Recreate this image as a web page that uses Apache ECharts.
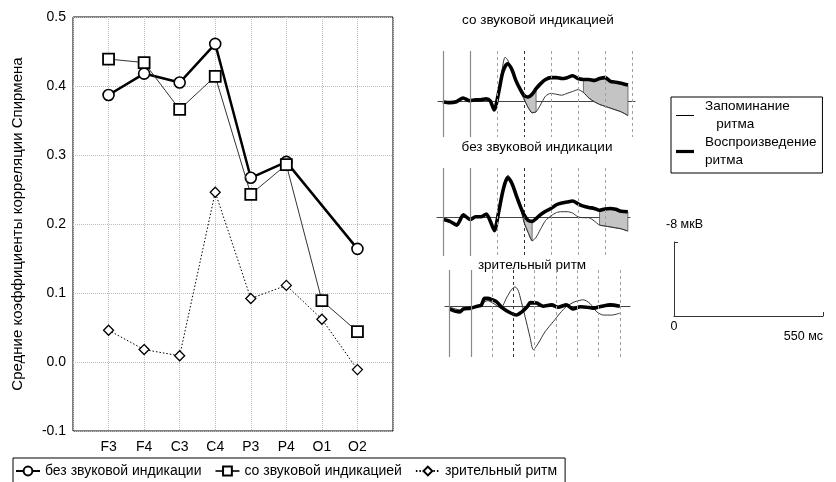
<!DOCTYPE html>
<html><head><meta charset="utf-8">
<script src="https://cdn.jsdelivr.net/npm/echarts@6/dist/echarts.min.js"></script>
<style>html,body{margin:0;padding:0;background:#fff}#c{width:836px;height:482px}</style>
</head><body><div id="c"></div>
<script>
// ---- main chart data ----
const categories = ['F3','F4','C3','C4','P3','P4','O1','O2'];
const noSound   = [0.387, 0.418, 0.405, 0.461, 0.267, 0.290, null, 0.164];
const withSound = [0.439, 0.434, 0.366, 0.414, 0.243, 0.286, 0.089, 0.044];
const visual    = [0.046, 0.018, 0.009, 0.246, 0.092, 0.111, 0.062, -0.011];
const yTicks = [-0.1, 0.0, 0.1, 0.2, 0.3, 0.4, 0.5];
const seriesNames = ['без звуковой индикации','со звуковой индикацией','зрительный ритм'];

// ---- ERP panels (time, ms; amplitude, µV, negative up) ----
const panelTitles = ['со звуковой индикацией','без звуковой индикации','зрительный ритм'];
const waveNames = ['Запоминание ритма','Воспроизведение ритма'];
const tGrid = [-100,-75,-50,-25,0,20,40,60,75,90,105,120,130,140,155,170,185,200,215,230,245,260,280,300,320,340,360,380,400,420,440,460,480,500,520,540,560,585];
const p1Thick = [0.0,0.1,0.0,-0.4,-0.1,-0.2,-0.2,-0.3,-0.1,0.9,-0.8,-3.0,-3.8,-4.1,-3.5,-2.3,-1.4,-0.7,-0.5,-0.8,-1.4,-1.9,-2.4,-2.6,-2.6,-2.5,-2.6,-2.8,-2.5,-2.4,-2.4,-2.3,-2.5,-2.6,-2.2,-2.1,-2.0,-1.8];
const p1Thin  = [0.0,0.1,0.0,-0.4,-0.1,-0.2,-0.2,-0.3,-0.1,0.9,-0.9,-3.6,-4.8,-4.5,-3.3,-2.2,-1.2,-0.3,0.6,1.2,1.1,0.4,-0.6,-0.9,-0.8,-0.7,-0.9,-1.1,-1.3,-1.0,-0.4,0.0,0.3,0.5,0.7,0.9,1.1,1.5];
const p2Thick = [0.2,0.4,0.8,-0.3,0.2,-0.1,-0.1,-0.4,0.4,1.4,-0.5,-2.7,-3.8,-4.3,-3.7,-2.5,-1.3,-0.3,0.3,0.4,0.1,-0.3,-0.7,-1.0,-1.4,-1.6,-1.7,-1.8,-1.5,-1.25,-1.1,-1.0,-0.8,-0.95,-1.0,-0.9,-0.7,-0.65];
const p2Thin  = [0.2,0.4,0.8,-0.3,0.2,-0.1,-0.1,-0.4,0.4,1.4,-0.5,-2.9,-4.1,-4.6,-3.8,-2.5,-1.2,0.5,1.6,2.5,2.1,1.3,0.3,-0.2,-0.55,-0.65,-0.65,-0.5,-0.1,0.0,0.0,0.35,0.8,0.9,1.0,1.1,1.2,1.45];
const p1Shade = [[200,245],[420,585]];
const p2Shade = [[200,230],[480,585]];
const p3Thick = [[-100,0.3],[-70,0.55],[-50,0.6],[-35,0.3],[0,0.2],[30,0.0],[50,-0.15],[65,-0.85],[80,-0.85],[100,-0.7],[120,-0.5],[150,0.2],[185,0.7],[215,0.95],[240,0.6],[265,0.05],[280,-0.4],[310,-0.35],[340,0.0],[380,-0.15],[410,0.1],[450,-0.15],[480,0.3],[515,0.05],[545,0.1],[575,0.2],[615,0.0],[655,-0.15],[700,0.0]];
const p3Thin  = [[-100,0.1],[-70,0.3],[-50,0.4],[-35,0.2],[0,0.2],[30,0.05],[50,-0.1],[65,-0.5],[80,-0.6],[100,-0.4],[120,-0.1],[140,0.2],[170,-1.0],[190,-1.75],[208,-2.1],[222,-1.75],[232,-1.0],[255,1.1],[278,3.3],[294,4.7],[317,4.0],[349,2.75],[388,1.65],[419,0.75],[451,0.0],[490,-0.5],[529,-0.7],[560,-0.3],[592,0.6],[623,0.95],[662,0.95],[700,0.75]];
const p1Marks = [-100,0,100,200,300,400,500,600];
const p2Marks = [-100,0,100,200,300,400,500];
const p3Marks = [-100,0,100,200,300,400,500,600,700];
const scaleBar = {amp: -8, time: 550};

const FONT = 'Liberation Sans, Arial, sans-serif';
const chart = echarts.init(document.getElementById('c'));

function markLines(vals){
  return {
    silent: true, symbol: 'none', label: {show: false},
    data: vals.map(v => ({xAxis: v, lineStyle: (v <= 0)
      ? {type: 'solid', color: '#8a8a8a', width: 1.2}
      : {type: [3,3], color: v === 200 ? '#333' : '#a0a0a0', width: 1}}))
  };
}
function shade(idx, times, thick, thin, regions){
  return {
    type: 'custom', xAxisIndex: idx, yAxisIndex: idx, silent: true, z: 1,
    data: regions,
    renderItem: function(params, api){
      const t0 = api.value(0), t1 = api.value(1);
      const ids = [];
      times.forEach((t,i)=>{ if (t >= t0 && t <= t1) ids.push(i); });
      const top = ids.map(i => api.coord([times[i], thick[i]]));
      const bot = ids.slice().reverse().map(i => api.coord([times[i], thin[i]]));
      return {type: 'polygon', shape: {points: top.concat(bot)},
        style: {fill: '#c4c4c4', stroke: '#555', lineWidth: 0.8}};
    }
  };
}
function zip(t, v){ return t.map((x,i)=>[x, v[i]]); }
function waveLine(idx, name, data, thick, marks){
  const s = {
    type: 'line', name: name, xAxisIndex: idx, yAxisIndex: idx, data: data,
    symbol: 'none', smooth: 0.25, silent: true, z: thick ? 4 : 3,
    lineStyle: {color: thick ? '#000' : '#333', width: thick ? 3.6 : 1},
    itemStyle: {color: '#000'}
  };
  if (marks) s.markLine = markLines(marks);
  return s;
}
function waveX(idx, min, max){
  return {type: 'value', gridIndex: idx, min: min, max: max,
    axisLine: {show: true, onZero: true, lineStyle: {color: '#444', width: 1}},
    axisTick: {show: false}, axisLabel: {show: false}, splitLine: {show: false}};
}
function waveY(idx, min, max){
  return {type: 'value', gridIndex: idx, min: min, max: max, inverse: true, show: false, splitLine: {show: false}};
}

const option = {
  animation: false,
  textStyle: {fontFamily: FONT, color: '#000'},
  grid: [
    {left: 73, top: 17, width: 320, height: 414, show: true, borderColor: '#000', borderWidth: 1},
    {left: 438, top: 51, width: 197, height: 86},
    {left: 437, top: 168, width: 193, height: 88},
    {left: 445, top: 270, width: 185, height: 87},
    {left: 674, top: 242, width: 149, height: 74}
  ],
  xAxis: [
    {type: 'category', gridIndex: 0, data: [''].concat(categories, ['']), boundaryGap: false,
     axisLine: {show: false}, axisTick: {show: false},
     axisLabel: {interval: 0, fontSize: 14, margin: 9, color: '#000', fontFamily: FONT},
     splitLine: {show: true, interval: 0, lineStyle: {type: [1,1], color: '#bdbdbd'}}},
    waveX(1, -118, 611),
    waveX(2, -123, 593),
    waveX(3, -121, 748),
    {type: 'value', gridIndex: 4, min: 0, max: scaleBar.time,
     axisLine: {show: true, onZero: false, lineStyle: {color: '#333'}},
     axisTick: {show: true, inside: true, length: 4, customValues: [scaleBar.time], lineStyle: {color: '#333'}},
     axisLabel: {customValues: [0, scaleBar.time], fontSize: 12, color: '#000', margin: 4,
       formatter: v => v === 0 ? '{a|0}' : '{b|' + scaleBar.time + ' мс}',
       rich: {a: {fontSize: 12.5, fontFamily: FONT}, b: {fontSize: 12.5, fontFamily: FONT, padding: [10,0,0,0]}},
       alignMinLabel: 'center', alignMaxLabel: 'right'},
     splitLine: {show: false}}
  ],
  yAxis: [
    {type: 'value', gridIndex: 0, min: yTicks[0], max: yTicks[yTicks.length-1], interval: 0.1,
     axisLine: {show: false}, axisTick: {show: false},
     axisLabel: {fontSize: 14, margin: 7, color: '#000', fontFamily: FONT,
       formatter: v => Math.abs(v) < 1e-9 ? '0.0' : v.toFixed(1)},
     splitLine: {show: true, lineStyle: {type: [1,1], color: '#bdbdbd'}},
     name: 'Средние коэффициенты корреляции Спирмена', nameLocation: 'middle', nameGap: 48,
     nameTextStyle: {fontSize: 15, color: '#000', fontFamily: FONT}},
    waveY(1, -5.48, 3.82),
    waveY(2, -5.37, 4.14),
    waveY(3, -3.92, 5.48),
    {type: 'value', gridIndex: 4, min: scaleBar.amp, max: 0, inverse: true,
     axisLine: {show: true, onZero: false, lineStyle: {color: '#333'}},
     axisTick: {show: true, inside: true, length: 4, customValues: [scaleBar.amp], lineStyle: {color: '#333'}},
     axisLabel: {show: false}, splitLine: {show: false},
     name: scaleBar.amp + ' мкВ', nameLocation: 'start', nameGap: 17,
     nameTextStyle: {fontSize: 12.5, color: '#000', fontFamily: FONT, align: 'left', verticalAlign: 'middle', padding: [0,0,0,-8]}}
  ],
  legend: [
    {data: seriesNames, left: 13, top: 458, orient: 'horizontal', itemWidth: 24, itemHeight: 11, itemGap: 13,
     padding: [6, 8, 6, 2], borderColor: '#000', borderWidth: 1, selectedMode: false,
     textStyle: {fontSize: 14, color: '#000', fontFamily: FONT}},
    {data: [{name: waveNames[0], icon: 'path://M0,0H18V1H0Z'}, {name: waveNames[1], icon: 'path://M0,0H18V3.2H0Z'}],
     left: 671, top: 97, orient: 'vertical', itemWidth: 18, itemHeight: 10, itemGap: 1,
     padding: [1, 6, 4, 5], borderColor: '#000', borderWidth: 1, selectedMode: false,
     formatter: n => n === waveNames[0] ? 'Запоминание\n   ритма' : 'Воспроизведение\nритма',
     textStyle: {fontSize: 13.5, color: '#000', fontFamily: FONT, lineHeight: 17.5, padding: [0,0,0,6]}}
  ],
  graphic: panelTitles.map((t, i) => ({
    type: 'text', x: [538, 537, 532][i], y: [20, 147, 265][i], silent: true,
    style: {text: t, fontSize: 13.5, fontFamily: FONT, fill: '#000', textAlign: 'center', textVerticalAlign: 'middle'}
  })),
  series: [
    {type: 'line', name: seriesNames[2], xAxisIndex: 0, yAxisIndex: 0, data: [null].concat(visual, [null]),
     symbol: 'diamond', symbolSize: 10, z: 3,
     lineStyle: {color: '#000', width: 1, type: [1.5,2]},
     itemStyle: {color: '#fff', borderColor: '#000', borderWidth: 1.3}},
    {type: 'line', name: seriesNames[0], xAxisIndex: 0, yAxisIndex: 0, data: [null].concat(noSound, [null]),
     connectNulls: true, symbol: 'circle', symbolSize: 11, z: 4,
     lineStyle: {color: '#000', width: 2.5},
     itemStyle: {color: '#fff', borderColor: '#000', borderWidth: 1.6}},
    {type: 'line', name: seriesNames[1], xAxisIndex: 0, yAxisIndex: 0, data: [null].concat(withSound, [null]),
     symbol: 'rect', symbolSize: 11, z: 5,
     lineStyle: {color: '#333', width: 1},
     itemStyle: {color: '#fff', borderColor: '#000', borderWidth: 1.8}},

    shade(1, tGrid, p1Thick, p1Thin, p1Shade),
    waveLine(1, waveNames[0], zip(tGrid, p1Thin), false, p1Marks),
    waveLine(1, waveNames[1], zip(tGrid, p1Thick), true, null),
    shade(2, tGrid, p2Thick, p2Thin, p2Shade),
    waveLine(2, waveNames[0], zip(tGrid, p2Thin), false, p2Marks),
    waveLine(2, waveNames[1], zip(tGrid, p2Thick), true, null),
    waveLine(3, waveNames[0], p3Thin, false, p3Marks),
    waveLine(3, waveNames[1], p3Thick, true, null)
  ]
};
chart.setOption(option);
</script></body></html>
